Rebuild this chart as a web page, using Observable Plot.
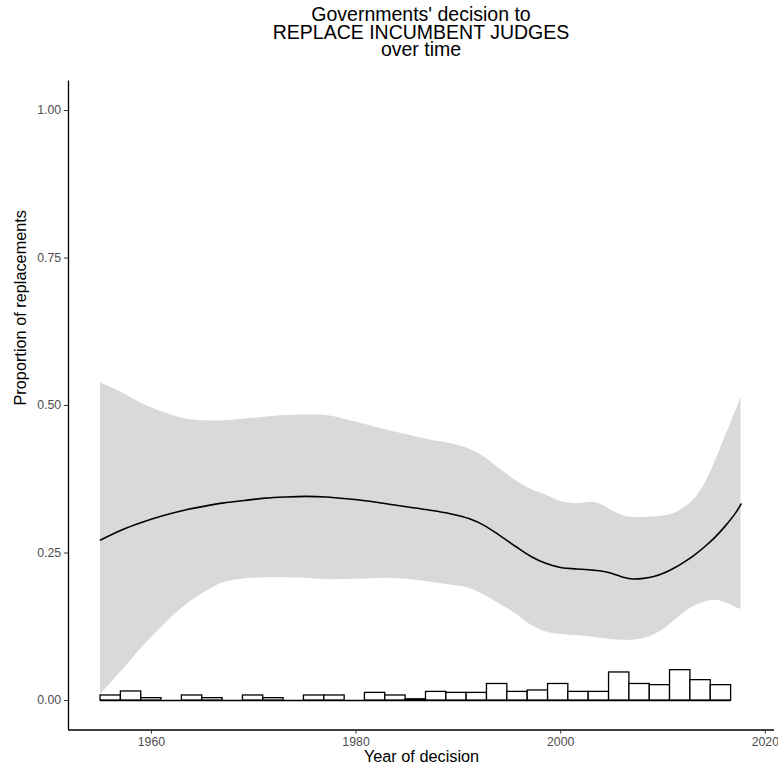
<!DOCTYPE html>
<html><head><meta charset="utf-8">
<script src="https://cdn.jsdelivr.net/npm/d3@7"></script>
<script src="https://cdn.jsdelivr.net/npm/@observablehq/plot@0.6"></script>
<style>
body{margin:0;background:#fff;font-family:"Liberation Sans",Arial,Helvetica,sans-serif;}
#title{width:706px;margin-left:68px;padding-top:6px;height:70px;text-align:center;font-size:19.5px;line-height:17.6px;color:#000;}
</style></head><body>
<div id="title">Governments' decision to<br>REPLACE INCUMBENT JUDGES<br>over time</div>
<div id="chart"></div>
<script>
// Smoothed trend (loess) with confidence band
const years = [1954.93,1957,1959,1961,1963,1965,1967,1969,1971,1973,1975,1977,1979,1981,1983,1985,1987,1989,1991,1992.5,1994,1995.5,1997,1998.5,2000,2001.5,2003,2004,2005,2006,2007,2008,2009,2010,2011,2012,2013,2014,2015,2016,2017,2017.53];
const fit   = [0.272,0.289,0.302,0.313,0.322,0.329,0.335,0.339,0.343,0.345,0.346,0.345,0.342,0.338,0.333,0.328,0.323,0.317,0.308,0.296,0.279,0.261,0.244,0.232,0.225,0.223,0.221,0.219,0.215,0.209,0.206,0.207,0.210,0.216,0.2245,0.235,0.247,0.261,0.277,0.296,0.318,0.333];
const lower = [0.010,0.050,0.090,0.126,0.158,0.182,0.200,0.206,0.208,0.208,0.207,0.205,0.205,0.206,0.207,0.205,0.201,0.196,0.190,0.178,0.163,0.147,0.128,0.116,0.112,0.110,0.107,0.105,0.103,0.102,0.102,0.105,0.111,0.121,0.135,0.149,0.160,0.167,0.170,0.166,0.158,0.154];
const upper = [0.538,0.522,0.503,0.489,0.478,0.474,0.474,0.477,0.480,0.483,0.484,0.483,0.476,0.467,0.458,0.450,0.442,0.436,0.426,0.412,0.392,0.373,0.358,0.348,0.337,0.334,0.336,0.331,0.321,0.313,0.310,0.310,0.311,0.313,0.317,0.327,0.342,0.368,0.405,0.448,0.490,0.514];

// Histogram of decisions (bin edges in years, bar heights)
const binEdges = [1954.93,1956.92,1958.91,1960.89,1962.88,1964.87,1966.86,1968.85,1970.83,1972.82,1974.81,1976.80,1978.79,1980.77,1982.76,1984.75,1986.74,1988.73,1990.71,1992.70,1994.69,1996.68,1998.67,2000.65,2002.64,2004.63,2006.62,2008.61,2010.59,2012.58,2014.57,2016.56];
const binHeights = [0.0085,0.0153,0.004,0,0.0085,0.004,0,0.0085,0.004,0,0.0085,0.0085,0,0.0129,0.0085,0.002,0.0146,0.0129,0.0129,0.028,0.0146,0.017,0.028,0.0146,0.0146,0.0475,0.028,0.026,0.0514,0.0345,0.026];

const xTicks = [1960, 1980, 2000, 2020];
const yTicks = [0, 0.25, 0.5, 0.75, 1];
const xLabel = "Year of decision";
const yLabel = "Proportion of replacements";

const smooth = years.map((y, i) => ({year: y, fit: fit[i], lo: lower[i], hi: upper[i]}));
const bins = binHeights.map((h, i) => ({x1: binEdges[i], x2: binEdges[i + 1], h}));
const xMin = 1951.8, yMin = -0.05;

const chart = Plot.plot({
  width: 778, height: 698,
  marginTop: 4.5, marginBottom: 44.5, marginLeft: 68, marginRight: 4,
  style: {fontFamily: "Liberation Sans, Arial, Helvetica, sans-serif", background: "white", overflow: "visible"},
  x: {domain: [xMin, 2020.8], label: null},
  y: {domain: [yMin, 1.05], label: null},
  marks: [
    Plot.areaY(smooth, {x: "year", y1: "lo", y2: "hi", fill: "#d9d9d9", curve: "catmull-rom"}),
    Plot.line(smooth, {x: "year", y: "fit", stroke: "black", strokeWidth: 1.6, curve: "catmull-rom"}),
    Plot.ruleY([0], {x1: binEdges[0], x2: binEdges[binEdges.length - 1], stroke: "black", strokeWidth: 1.3}),
    Plot.rect(bins, {x1: "x1", x2: "x2", y1: 0, y2: "h", fill: "white", stroke: "black", strokeWidth: 1.3}),
    Plot.ruleX([xMin], {stroke: "black", strokeWidth: 1.3}),
    Plot.ruleY([yMin], {stroke: "black", strokeWidth: 1.3}),
    Plot.axisX({ticks: xTicks, tickFormat: d => String(d), tickSize: 4.1, tickPadding: 3.3, fontSize: 12.3, dx: -1, fill: "#4d4d4d", stroke: "#333333", label: null}),
    Plot.axisY({ticks: yTicks, tickFormat: d3.format(".2f"), tickSize: 4.1, tickPadding: 3.3, fontSize: 12.3, fill: "#4d4d4d", stroke: "#333333", label: null}),
    Plot.text([xLabel], {frameAnchor: "bottom", dy: 32, fontSize: 16.3, fill: "black"}),
    Plot.text([yLabel], {frameAnchor: "left", dx: -47.5, rotate: -90, fontSize: 16.3, fill: "black"})
  ]
});
document.getElementById("chart").appendChild(chart);
</script>
</body></html>
